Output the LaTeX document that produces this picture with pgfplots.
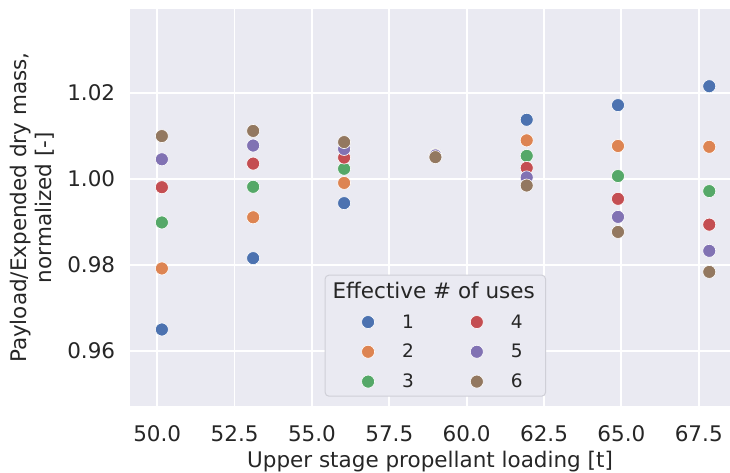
\documentclass[border=0pt]{standalone}
\usepackage{fontspec}
\setmainfont{DejaVu Sans}
\usepackage{pgfplots}
\pgfplotsset{compat=1.18}
\definecolor{bgc}{HTML}{EAEAF2}
\definecolor{txt}{HTML}{262626}
\definecolor{legframe}{HTML}{CFCFD7}
\definecolor{c1}{HTML}{4C72B0}
\definecolor{c2}{HTML}{DD8452}
\definecolor{c3}{HTML}{55A868}
\definecolor{c4}{HTML}{C44E52}
\definecolor{c5}{HTML}{8172B3}
\definecolor{c6}{HTML}{937860}
\pgfplotsset{
  dot/.style={only marks, mark=*, mark size=6.5pt, mark options={fill=#1, draw=white, line width=0.6pt}},
  legdot/.style={dot=#1, legend image code/.code={\path[draw=none,fill=none] (0pt,-7pt) rectangle (40pt,7pt); \draw plot coordinates {(20pt,0pt)};}},
}
\begin{document}
\begin{tikzpicture}
\begin{axis}[
  at={(0pt,0pt)}, anchor=south west,
  scale only axis, width=600pt, height=396.7pt,
  xmin=49.12, xmax=68.51, ymin=0.9472, ymax=1.0395,
  axis background/.style={fill=bgc},
  axis line style={draw=none},
  grid=major, major grid style={white, line width=1.8pt},
  tick style={draw=none}, major tick length=0pt,
  xtick={50,52.5,55,57.5,60,62.5,65,67.5},
  ytick={0.96,0.98,1.00,1.02},
  /pgf/number format/assume math mode=true,
  xticklabel style={/pgf/number format/.cd, fixed, fixed zerofill, precision=1, /tikz/.cd, anchor=base, yshift=-35.7pt},
  yticklabel style={/pgf/number format/.cd, fixed, fixed zerofill, precision=2, /tikz/.cd, anchor=east, xshift=-11.3pt},
  every tick label/.append style={font=\fontsize{21.5}{25}\selectfont, text=txt},
  xlabel={Upper stage propellant loading [t]},
  ylabel={Payload/Expended dry mass,\\normalized [-]},
  label style={font=\fontsize{21.5}{25}\selectfont, text=txt},
  xlabel style={at={(axis description cs:0.5,-0.1555)}, anchor=base},
  ylabel style={align=center, at={(axis description cs:-0.2055,0.5)}, anchor=north},
  legend columns=2,
  legend cell align=left,
  legend style={at={(0.5089,0.0234)}, anchor=south, fill=bgc, draw=legframe, line width=1pt, rounded corners=4pt,
    inner xsep=23pt, inner ysep=7pt, row sep=14.6pt,
    font=\fontsize{18.5}{22}\selectfont, text=txt,
    nodes={inner sep=0pt},
    /tikz/every odd column/.append style={column sep=14pt},
    /tikz/every even column/.append style={column sep=43pt}},
]
% legend entries (row-wise: title, then 1 4 / 2 5 / 3 6)
\addlegendimage{empty legend}
\addlegendentry{\makebox[0pt][l]{\hspace*{-70pt}\fontsize{21.5}{25}\selectfont Effective \# of uses\rule[-4pt]{0pt}{4pt}}}
\addlegendimage{empty legend}
\addlegendentry{}
\addlegendimage{legdot=c1}\addlegendentry{1}
\addlegendimage{legdot=c4}\addlegendentry{4}
\addlegendimage{legdot=c2}\addlegendentry{2}
\addlegendimage{legdot=c5}\addlegendentry{5}
\addlegendimage{legdot=c3}\addlegendentry{3}
\addlegendimage{legdot=c6}\addlegendentry{6}

\addplot[dot=c1, forget plot] coordinates {(50.15,0.9650) (53.10,0.9816) (56.04,0.9944) (58.99,1.0057) (61.94,1.0138) (64.89,1.0172) (67.84,1.0216)};
\addplot[dot=c2, forget plot] coordinates {(50.15,0.9792) (53.10,0.9911) (56.04,0.9991) (58.99,1.0057) (61.94,1.0090) (64.89,1.0077) (67.84,1.0075)};
\addplot[dot=c3, forget plot] coordinates {(50.15,0.9899) (53.10,0.9982) (56.04,1.0024) (58.99,1.0056) (61.94,1.0054) (64.89,1.0007) (67.84,0.9972)};
\addplot[dot=c4, forget plot] coordinates {(50.15,0.9981) (53.10,1.0036) (56.04,1.0050) (58.99,1.0055) (61.94,1.0026) (64.89,0.9954) (67.84,0.9894)};
\addplot[dot=c5, forget plot] coordinates {(50.15,1.0046) (53.10,1.0078) (56.04,1.0070) (58.99,1.0055) (61.94,1.0004) (64.89,0.9912) (67.84,0.9833)};
\addplot[dot=c6, forget plot] coordinates {(50.15,1.0100) (53.10,1.0112) (56.04,1.0086) (58.99,1.0051) (61.94,0.9985) (64.89,0.9877) (67.84,0.9784)};
\end{axis}
\pgfresetboundingbox
\path[use as bounding box] (-130pt,-67pt) rectangle (600pt,406pt);
\end{tikzpicture}
\end{document}
